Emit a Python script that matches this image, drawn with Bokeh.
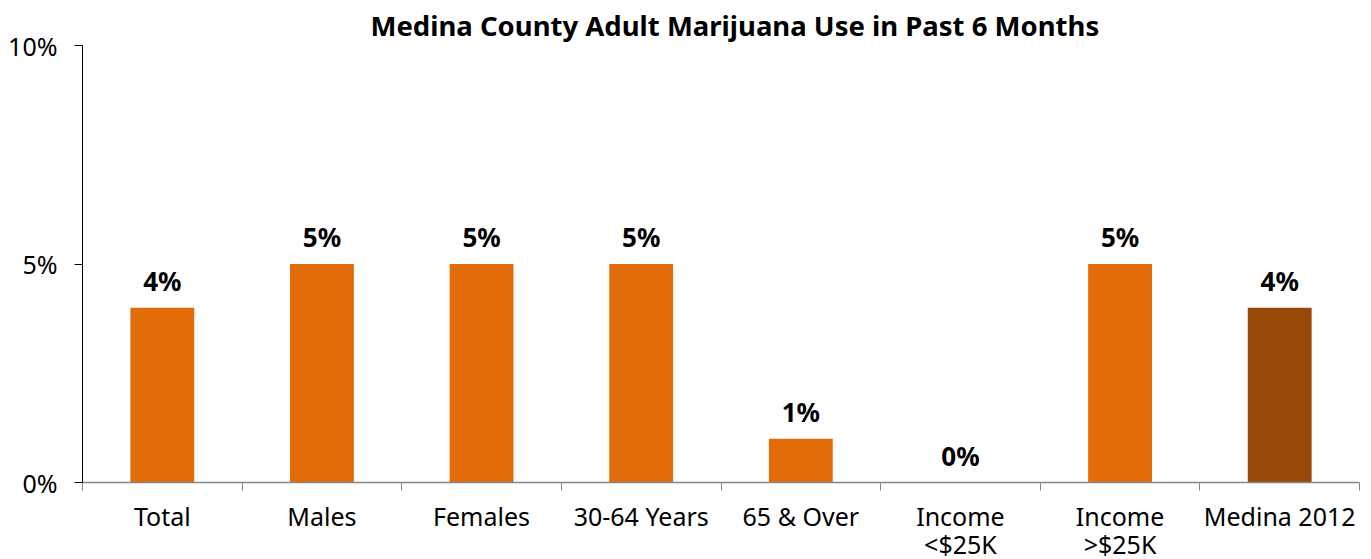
from bokeh.plotting import figure
from bokeh.models import FixedTicker, Range1d, ColumnDataSource
from bokeh.core.properties import value
from bokeh.embed import file_html
from bokeh.resources import INLINE
import numpy as np

categories = ["Total", "Males", "Females", "30-64 Years", "65 & Over",
              "Income\n<$25K", "Income\n>$25K", "Medina 2012"]
values = [4, 5, 5, 5, 1, 0, 5, 4]
colors = ["#E36C0A"] * 7 + ["#984807"]
value_labels = ["4%", "5%", "5%", "5%", "1%", "0%", "5%", "4%"]
y_ticks = [0, 5, 10]
y_tick_labels = ["0%", "5%", "10%"]
title = "Medina County Adult Marijuana Use in Past 6 Months"

FONT = "Noto Sans"
n = len(categories)
xpos = np.arange(n) + 0.5

p = figure(frame_width=1277, frame_height=437, output_backend="svg", toolbar_location=None,
           x_range=Range1d(0, n), y_range=Range1d(0, 10),
           min_border_left=82, min_border_right=12, min_border_top=45, min_border_bottom=60)
p.outline_line_color = None
p.xgrid.grid_line_color = None
p.ygrid.grid_line_color = None

p.title.text = title
p.title.align = "left"
p.title.offset = 288
p.title.text_font = FONT
p.title.text_font_style = "bold"
p.title.text_font_size = "27.5px"
p.title.text_color = "#000000"
p.title.standoff = 3

src = ColumnDataSource(dict(x=xpos, top=values, color=colors, lab=value_labels))
p.vbar(x="x", top="top", width=0.4, fill_color="color", line_color=None, source=src)
p.text(x="x", y="top", text="lab", source=src, y_offset=-27, text_align="center",
       text_baseline="middle", text_font=value(FONT), text_font_style="bold",
       text_font_size="26px", text_color="#000000")

xa = p.xaxis[0]
xa.ticker = FixedTicker(ticks=list(xpos), minor_ticks=list(range(n + 1)))
xa.major_label_overrides = {float(x): c for x, c in zip(xpos, categories)}
xa.major_tick_in = 0
xa.major_tick_out = 0
xa.minor_tick_in = 0
xa.minor_tick_out = 8
xa.minor_tick_line_color = "#868686"
xa.axis_line_color = "#868686"
xa.axis_line_width = 1.5
xa.major_label_standoff = 8
xa.major_label_text_font = FONT
xa.major_label_text_font_size = "25px"
xa.major_label_text_line_height = 0.85
xa.major_label_text_color = "#000000"

ya = p.yaxis[0]
ya.ticker = FixedTicker(ticks=y_ticks, minor_ticks=[])
ya.major_label_overrides = {t: l for t, l in zip(y_ticks, y_tick_labels)}
ya.major_tick_in = 0
ya.major_tick_out = 8
ya.major_tick_line_color = "#000000"
ya.axis_line_color = "#000000"
ya.major_label_standoff = 17
ya.major_label_text_font = FONT
ya.major_label_text_font_size = "25px"
ya.major_label_text_color = "#000000"

open("out.html", "w").write(file_html(p, INLINE))
